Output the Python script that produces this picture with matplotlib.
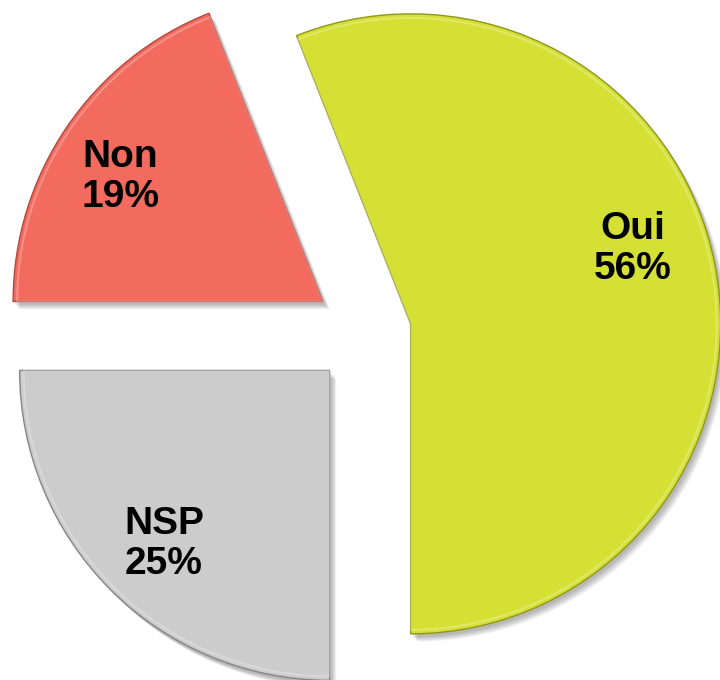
import matplotlib
matplotlib.use("Agg")
import matplotlib.pyplot as plt
import numpy as np
from matplotlib.patches import Wedge

labels = ["Oui", "Non", "NSP"]
values = [56, 19, 25]
colors = ["#d5e035", "#f36b5e", "#cccccc"]
edge_colors = ["#8f971a", "#b04840", "#858585"]
explode = [0.14, 0.175, 0.175]

fig = plt.figure(figsize=(7.2, 6.8), dpi=100)
ax = fig.add_axes([0, 0, 1, 1])

wedges, _ = ax.pie(values, explode=explode, colors=colors, startangle=-90,
                   counterclock=True, radius=1.0,
                   wedgeprops=dict(linewidth=1.0))

S = 310.0  # pixels per data unit
ax.set_xlim(-368 / S, 352 / S)
ax.set_ylim(-348 / S, 332 / S)
ax.set_aspect('equal')
ax.axis('off')

for w, ec in zip(wedges, edge_colors):
    w.set_edgecolor(ec)
    w.set_zorder(3)
    cx, cy = w.center
    # soft drop shadow
    for k in range(7):
        dx = (2 + 0.8 * k) / S
        dy = -(3 + 0.8 * k) / S
        sh = Wedge((cx + dx, cy + dy), w.r, w.theta1, w.theta2,
                   facecolor="#000000", edgecolor="none", alpha=0.045, zorder=1)
        ax.add_patch(sh)
    # bevel highlight just inside the edge
    hl = Wedge((cx, cy), w.r - 4 / S, w.theta1, w.theta2,
               facecolor="none", edgecolor="white", linewidth=1.5, alpha=0.25, zorder=4)
    ax.add_patch(hl)

text_pos = {"Non": (-0.800, 0.500), "Oui": (0.855, 0.268), "NSP": (-0.658, -0.684)}
for lab, val in zip(labels, values):
    x, y = text_pos[lab]
    ax.text(x, y, f"{lab}\n{val}%", ha='center', va='center', fontsize=28,
            fontweight='bold', family=['Liberation Sans', 'DejaVu Sans'],
            color='black', zorder=6, linespacing=1.12)

fig.savefig("out.png", dpi=100)
